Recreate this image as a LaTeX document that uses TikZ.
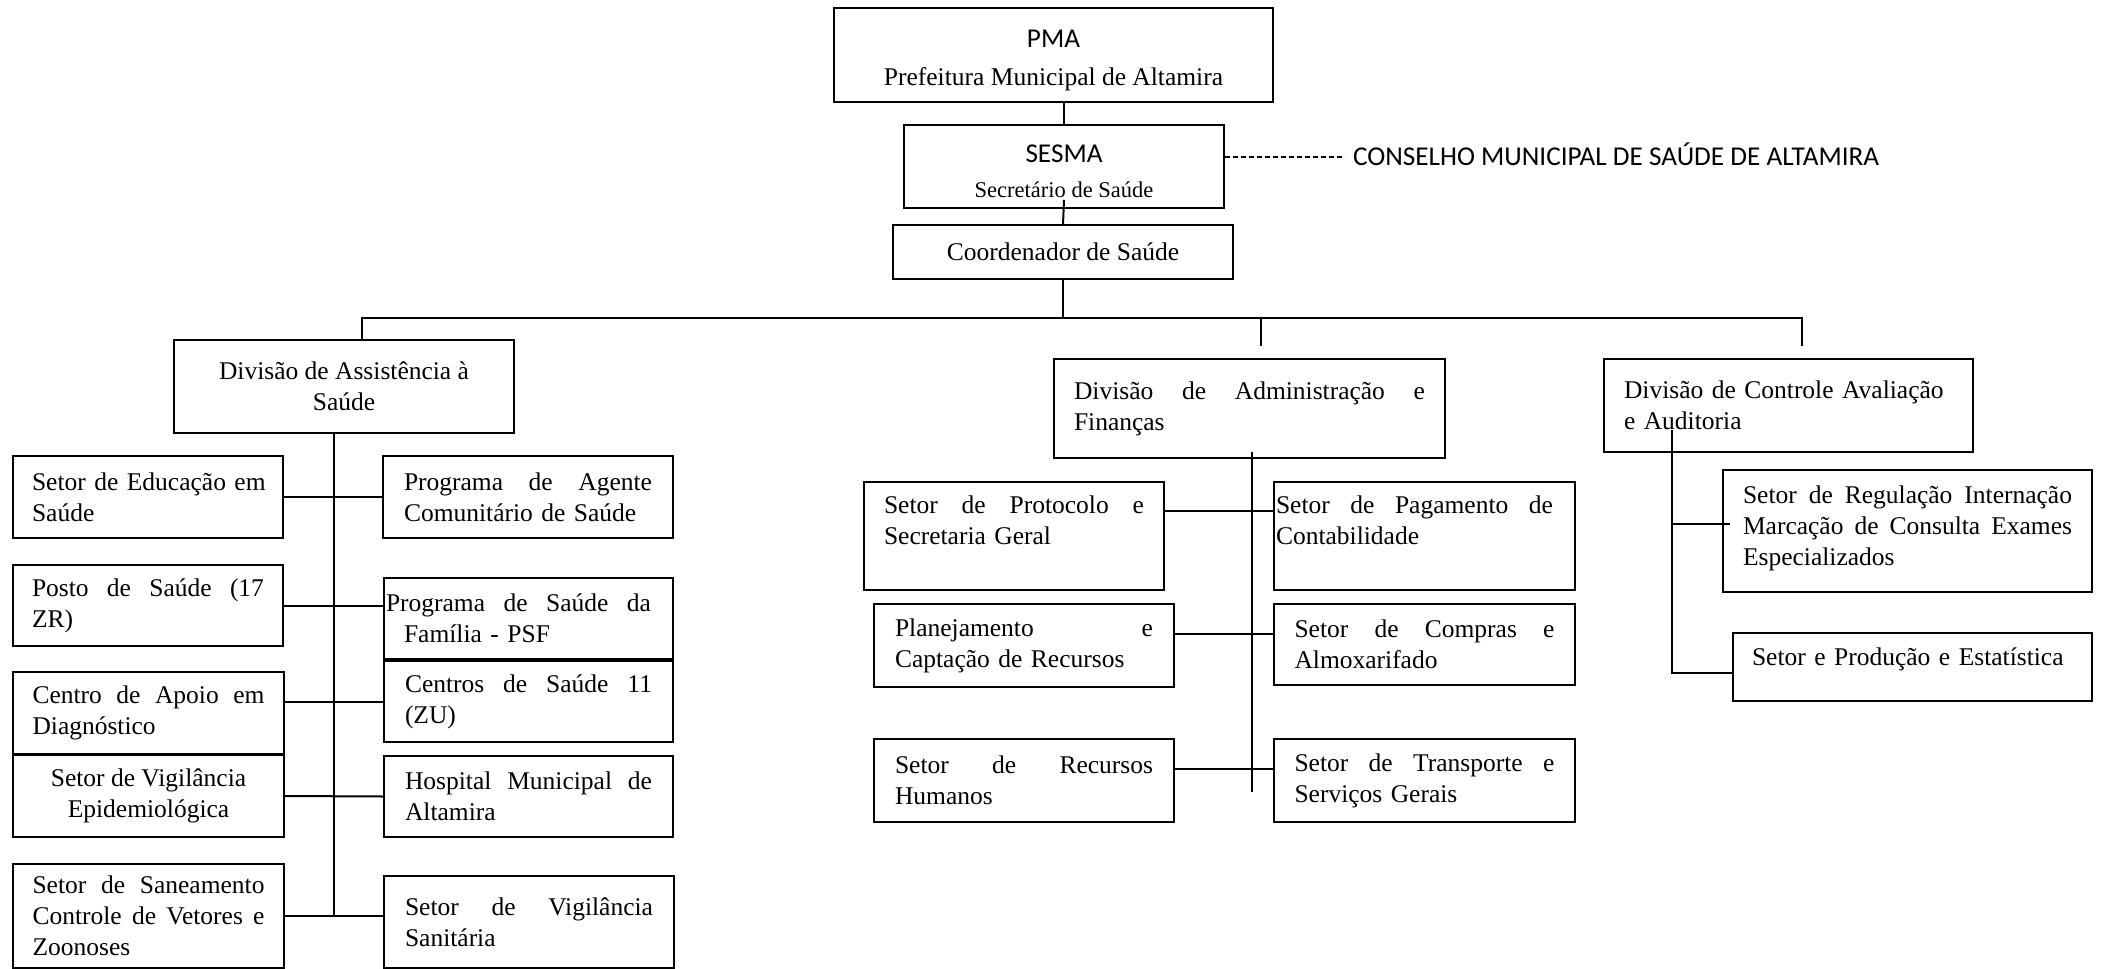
\documentclass[tikz,border=0pt]{standalone}
\usepackage{fontspec}
\setmainfont{Liberation Serif}
\newfontfamily\calibri{Carlito}
\usepackage{tikz}
\newcommand{\boxfont}{\fontsize{25.5}{31}\selectfont}
\newcommand{\capsfont}{\calibri\fontsize{27.2}{31}\selectfont}
\tikzset{
  orgbox/.style={draw, anchor=north west, inner sep=0pt, align=left, font=\boxfont},
}

\begin{document}
\begin{tikzpicture}[x=1pt, y=-1pt, line width=2pt]
    \useasboundingbox (0,0) rectangle (2105,969);
    % top of the chart
    \node[orgbox, align=center, minimum width=439pt, minimum height=94pt] (pma) at (833,7) {{\capsfont\rule{0pt}{28pt}PMA}\\[7pt]Prefeitura Municipal de Altamira};
    \node[orgbox, align=center, minimum width=320pt, minimum height=83pt] (sesma) at (903,124) {{\capsfont\rule{0pt}{27pt}SESMA}\\[4pt]{\fontsize{22.5}{27}\selectfont Secretário de Saúde}};
    \node[orgbox, align=center, minimum width=340pt, minimum height=54pt] (coord) at (892,224) {Coordenador de Saúde};
    \node[font=\capsfont, anchor=west, inner sep=0pt, text height=17pt, text depth=0pt] (conselho) at (1352,157) {CONSELHO MUNICIPAL DE SAÚDE DE ALTAMIRA};

    % divisions
    \node[orgbox, align=center, minimum width=340pt, minimum height=93pt] (assist) at (173,339) {Divisão de Assistência à\\Saúde};
    \node[orgbox, minimum width=391pt, minimum height=99pt, text width=351pt] (admin) at (1053,358) {Divisão\hfill de\hfill Administração\hfill e\\Finanças};
    \node[orgbox, minimum width=369pt, minimum height=93pt, text width=329pt] (ctrl) at (1603,358) {Divisão de Controle Avaliação\\e Auditoria};

    % assistance, left column
    \node[orgbox, minimum width=270pt, minimum height=82pt, text width=232pt] (educ) at (12,455) {\mbox{Setor de Educação em}\\Saúde};
    \node[orgbox, minimum width=270pt, minimum height=81pt, text width=232pt] (posto) at (12,564) {Posto\hfill de\hfill Saúde\hfill (17\\ZR)};
    \node[orgbox, minimum width=271pt, minimum height=82pt, text width=232pt] (apoio) at (12,671) {Centro\hfill de\hfill Apoio\hfill em\\Diagnóstico};
    \node[orgbox, align=center, minimum width=271pt, minimum height=82pt] (epid) at (12,754) {Setor de Vigilância\\Epidemiológica};
    \node[orgbox, minimum width=271pt, minimum height=104pt, text width=232pt] (saneam) at (12,863) {Setor\hfill de\hfill Saneamento\\Controle\hfill de\hfill Vetores\hfill e\\Zoonoses};

    % assistance, right column
    \node[orgbox, minimum width=290pt, minimum height=82pt, text width=248pt] (agente) at (382,455) {Programa\hfill de\hfill Agente\\Comunitário de Saúde};
    \node[orgbox, minimum width=289pt, minimum height=81pt, text width=285pt] (psf) at (383,577) {\hbox to 265pt{Programa\hfill de\hfill Saúde\hfill da}\\\hspace*{18pt}Família - PSF};
    \node[orgbox, minimum width=289pt, minimum height=81pt, text width=247pt] (centros) at (383,660) {Centros\hfill de\hfill Saúde\hfill 11\\(ZU)};
    \node[orgbox, minimum width=289pt, minimum height=81pt, text width=247pt] (hosp) at (383,755) {Hospital\hfill Municipal\hfill de\\Altamira};
    \node[orgbox, minimum width=290pt, minimum height=92pt, text width=248pt] (sanit) at (383,875) {Setor\hfill de\hfill Vigilância\\Sanitária};

    % administration
    \node[orgbox, minimum width=300pt, minimum height=108pt, text width=260pt] (proto) at (863,481) {Setor\hfill de\hfill Protocolo\hfill e\\Secretaria Geral\\\mbox{}};
    \node[orgbox, minimum width=301pt, minimum height=108pt, text width=297pt] (pag) at (1273,481) {\hbox to 277pt{Setor\hfill de\hfill Pagamento\hfill de}\\Contabilidade\\\mbox{}};
    \node[orgbox, minimum width=300pt, minimum height=83pt, text width=258pt] (plan) at (873,603) {Planejamento\hfill e\\Captação de Recursos};
    \node[orgbox, minimum width=301pt, minimum height=81pt, text width=260pt] (compras) at (1273,603) {Setor\hfill de\hfill Compras\hfill e\\Almoxarifado};
    \node[orgbox, minimum width=300pt, minimum height=83pt, text width=258pt] (recur) at (873,738) {Setor\hfill de\hfill Recursos\\Humanos};
    \node[orgbox, minimum width=301pt, minimum height=83pt, text width=260pt] (transp) at (1273,738) {Setor\hfill de\hfill Transporte\hfill e\\Serviços Gerais};

    % control
    \node[orgbox, minimum width=369pt, minimum height=122pt, text width=329pt] (regul) at (1722,469) {Setor\hfill de\hfill Regulação\hfill Internação\\Marcação\hfill de\hfill Consulta\hfill Exames\\Especializados\\[-20pt]\mbox{}};
    \node[orgbox, minimum width=359pt, minimum height=68pt, text width=321pt, text depth=20pt] (prod) at (1732,632) {Setor e Produção e Estatística};

    % links at the top
    \draw (pma.south -| sesma.north) -- (sesma.north);
    \draw ([yshift=9pt]sesma.south) -- (coord.north);
    \draw[line width=1.3pt, dash pattern=on 5pt off 3pt] (sesma.east |- conselho.west) -- ([xshift=-7pt]conselho.west);
    \coordinate (barL) at (362,318);
    \coordinate (barM) at (1261,318);
    \coordinate (barR) at (1802,318);
    \draw (coord.south) -- (coord.south |- barL);
    \draw (barL |- assist.north) -- (barL) -- (barR) -- ++(0,28);
    \draw (barM) -- ++(0,28);

    % assistance links
    \draw ([xshift=-10pt]assist.south) -- ([xshift=-10pt]assist.south |- saneam.east);
    \draw (educ.east) -- (agente.west);
    \draw (posto.east) -- (posto.east -| psf.west);
    \draw (apoio.east |- centros.west) -- (centros.west);
    \draw (epid.east) -- (hosp.west);
    \draw (saneam.east) -- (saneam.east -| sanit.west);

    % administration links
    \coordinate (admTop) at (1252,452);
    \coordinate (admBot) at (1252,792);
    \draw (admTop) -- (admBot);
    \draw ([yshift=25pt]proto.east) -- ([yshift=25pt]pag.west);
    \draw ([yshift=12pt]plan.east) -- ([yshift=12pt]plan.east -| compras.west);
    \draw ([yshift=12pt]recur.east) -- ([yshift=12pt]recur.east -| transp.west);

    % control links
    \coordinate (ctlTop) at (1672,430);
    \draw (ctlTop) |- ([yshift=-6pt]prod.west);
    \draw ([xshift=8pt,yshift=7pt]regul.west) -- ++(-58,0);
\end{tikzpicture}
\end{document}
